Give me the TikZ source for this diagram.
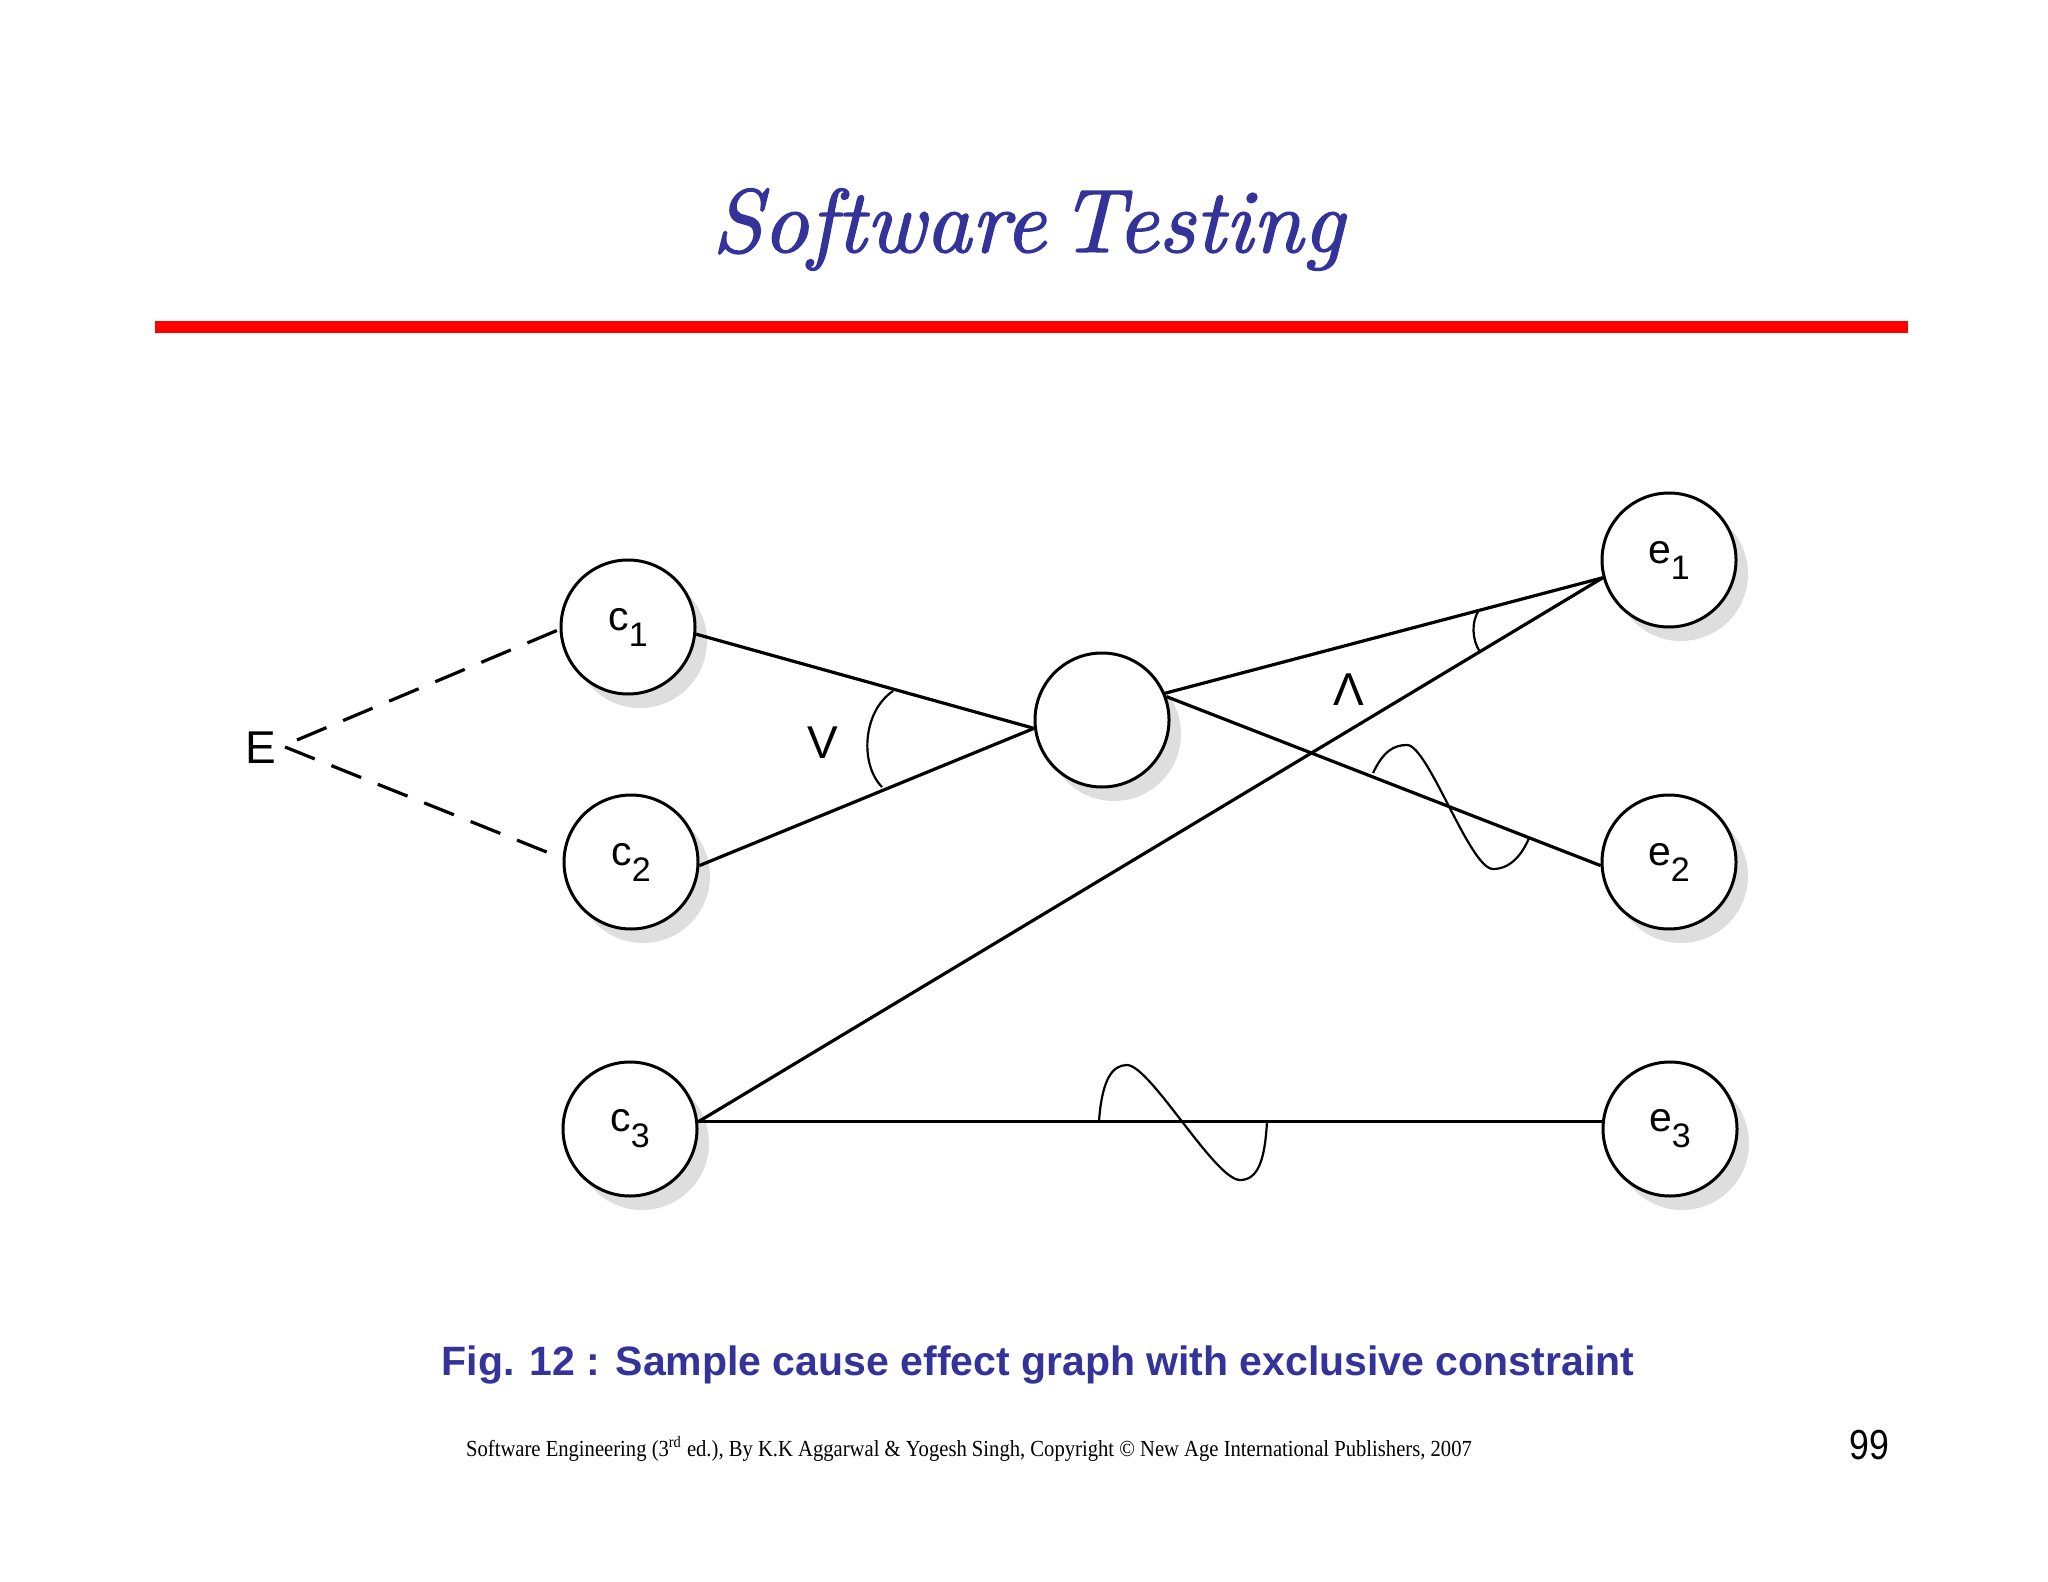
\documentclass[tikz,border=0pt]{standalone}
\usepackage{fontspec}
\newfontfamily\arialf{Liberation Sans}
\newfontfamily\timesf{Liberation Serif}
\newfontfamily\ttlf{lmroman10-italic}[Extension=.otf,FakeBold=1.6]
\usetikzlibrary{shadows}
\definecolor{ttlblue}{RGB}{51,51,153}
\definecolor{shd}{RGB}{222,222,222}
\newcommand\lbl[2]{#1\raisebox{-8pt}{\fontsize{17}{17}\selectfont #2}}
\begin{document}
\begin{tikzpicture}[x=0.5pt,y=-0.5pt,
  circ/.style={circle,draw,line width=1.5pt,minimum size=67pt,inner sep=0pt,fill=white,
    drop shadow={shadow xshift=6pt,shadow yshift=-7pt,fill=shd,opacity=1},
    font=\arialf\fontsize{20.5}{20.5}\selectfont},
  conn/.style={line width=1.6pt},
  thinline/.style={line width=1.1pt},
  dsh/.style={line width=1.6pt,dash pattern=on 16pt off 9pt},
  lab/.style={font=\arialf\fontsize{23}{23}\selectfont,inner sep=0pt}]
\useasboundingbox[fill=white] (0,0) rectangle (2048,1582);

% title and rule
\node[font=\ttlf\fontsize{45}{45}\selectfont,text=ttlblue,anchor=base,inner sep=0pt] (title) at (1028,252) {\scalebox{0.997}[1]{Software\hspace{7pt}Testing}};
\draw[red,line width=6pt] (155,327) -- (1908,327);

% nodes
\node[circ] (c1) at (628,627) {\lbl{c}{1}};
\node[circ] (c2) at (631,862) {\lbl{c}{2}};
\node[circ] (c3) at (630,1129) {\lbl{c}{3}};
\node[circ] (mid) at (1102,720) {};
\node[circ] (e1) at (1669,560) {\lbl{e}{1}};
\node[circ] (e2) at (1669,862) {\lbl{e}{2}};
\node[circ] (e3) at (1670,1129) {\lbl{e}{3}};

% connectors
\draw[conn] (c1.-6) -- (mid.187);
\draw[conn] (c2.-3) -- (mid.187);
\draw[conn] (mid.23) -- (e1.195);
\draw[conn] (mid.20) -- (e2.183);
\draw[conn] (c3.6) -- (e1.195);
\draw[conn] (c3.6) -- (e3.174);

% exclusive constraint
\node[lab] (E) at (261,748) {E};
\coordinate (Ea) at (297,740);
\coordinate (Eb) at (285,747);
\draw[dsh] (Ea) -- (c1.182);
\draw[dsh] (Eb) -- (c2.177);

% or / and
\node[lab] (vee) at (823,743) {V};
\node[lab] (wedge) at (1349,690) {Λ};
\draw[thinline] (893,691) .. controls (862,712) and (860,765) .. (882,787);
\draw[thinline] (1479,610) .. controls (1471,622) and (1472,640) .. (1480,652);

% not waves
\draw[thinline] (1373,773) .. controls (1383,752) and (1393,745) .. (1407,745)
   .. controls (1428,745) and (1470,869) .. (1493,869)
   .. controls (1510,869) and (1522,855) .. (1529,838);
\draw[thinline] (1099,1121) .. controls (1102,1080) and (1112,1065) .. (1127,1065)
   .. controls (1150,1065) and (1215,1180) .. (1240,1180)
   .. controls (1258,1180) and (1265,1160) .. (1267,1121);

% caption and footer
\node[font=\arialf\bfseries\fontsize{20.5}{20.5}\selectfont,text=ttlblue,anchor=base,inner sep=0pt] (cap) at (1038,1375) {Fig. 12 : Sample cause effect graph with exclusive constraint};
\node[font=\timesf\fontsize{11.5}{11.5}\selectfont,anchor=base,inner sep=0pt] (foot) at (969,1456) {\scalebox{0.897}[1]{Software Engineering (3\textsuperscript{rd} ed.), By K.K Aggarwal \& Yogesh Singh, Copyright © New Age International Publishers, 2007}};
\node[font=\arialf\fontsize{21}{21}\selectfont,anchor=base,inner sep=0pt] (pg) at (1869,1459) {\scalebox{0.85}[1]{99}};
\end{tikzpicture}
\end{document}
